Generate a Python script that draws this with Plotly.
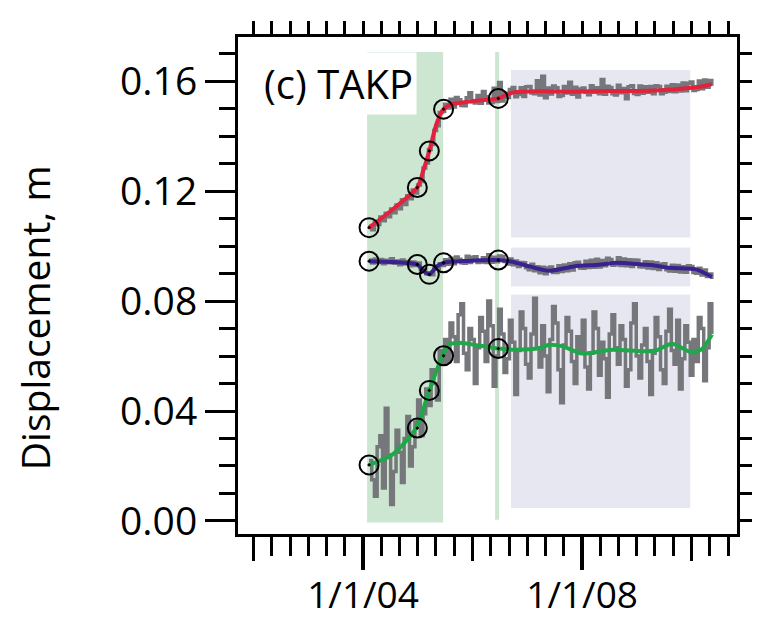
import pandas as pd
import plotly.graph_objects as go

# ---- raw daily-solution series (sampled every 18 days), millimetres ----
raw_start = "2004-02-10"
raw_count = 128

east_raw_mm = [
    107.2, 105.9, 108.9, 107.8, 110.6, 109.2, 111.9, 110.7, 113.5, 112.1,
    114.9, 113.6, 116.8, 115.1, 118.3, 117.2, 120.4, 119.3, 122.2, 123.5,
    128.4, 130.2, 135.1, 136.9, 142.0, 143.8, 148.6, 148.9, 151.6, 150.2,
    153.4, 150.6, 154.0, 153.2, 151.1, 151.0, 153.9, 155.8, 152.6, 152.0,
    154.8, 151.9, 156.2, 154.3, 152.0, 152.1, 157.4, 152.6, 159.5, 152.8,
    155.6, 154.0, 156.9, 157.7, 154.3, 155.1, 157.6, 154.4, 157.9, 158.0,
    155.7, 155.4, 160.1, 154.9, 161.8, 153.9, 157.5, 155.3, 158.2, 157.6,
    154.4, 154.8, 158.0, 155.7, 159.6, 155.2, 157.8, 154.2, 157.1, 157.5,
    155.9, 155.0, 158.3, 155.9, 157.6, 155.4, 160.6, 155.2, 158.1, 157.7,
    155.4, 154.9, 158.5, 155.8, 157.3, 153.6, 157.9, 158.3, 155.5, 155.1,
    158.2, 155.6, 157.9, 155.9, 158.0, 155.4, 158.3, 158.0, 155.4, 155.9,
    158.1, 156.2, 158.7, 156.1, 158.6, 156.4, 159.3, 156.5, 159.2, 159.7,
    156.6, 156.9, 160.0, 157.2, 160.4, 157.8, 160.2, 158.3,
]

north_raw_mm = [
    94.9, 93.8, 95.3, 94.0, 95.1, 93.6, 94.8, 93.9, 95.4, 93.7,
    94.6, 93.2, 94.9, 93.5, 94.4, 92.8, 94.2, 92.9, 93.8, 91.6,
    91.5, 89.9, 90.3, 89.6, 92.0, 91.8, 93.6, 92.9, 95.0, 93.4,
    95.6, 93.6, 96.0, 95.2, 93.9, 93.7, 96.3, 94.0, 95.9, 96.1,
    94.0, 94.2, 95.7, 94.0, 96.8, 94.1, 95.9, 94.3, 96.4, 96.2,
    94.4, 93.5, 95.3, 93.2, 94.6, 92.6, 94.0, 93.9, 92.1, 91.4,
    93.4, 91.0, 92.5, 90.3, 92.3, 89.9, 92.0, 92.4, 90.4, 90.4,
    92.8, 90.7, 93.1, 91.0, 93.6, 91.3, 93.9, 94.1, 92.0, 91.9,
    94.5, 92.2, 94.8, 92.3, 95.2, 92.4, 94.7, 92.8, 95.6, 95.1,
    93.0, 93.2, 95.7, 92.9, 95.3, 92.8, 95.0, 92.6, 94.9, 94.8,
    92.5, 92.4, 94.3, 92.0, 94.2, 91.8, 93.9, 91.5, 93.4, 93.6,
    91.4, 90.9, 93.0, 90.8, 92.9, 90.6, 92.5, 90.5, 92.8, 92.6,
    90.4, 90.1, 91.9, 89.5, 91.3, 88.9, 89.8, 88.0,
]

up_raw_mm = [
    22, 15, 9, 27, 31, 12, 41, 24, 6, 18,
    33, 25, 14, 30, 38, 20, 27, 36, 44, 31,
    39, 48, 42, 55, 50, 44, 62, 57, 66, 58,
    72, 67, 58, 75, 79, 61, 55, 70, 66, 50,
    63, 74, 69, 58, 80, 71, 49, 60, 77, 68,
    54, 59, 73, 65, 46, 62, 76, 70, 57, 52,
    68, 81, 63, 56, 71, 60, 47, 66, 78, 72,
    55, 43, 64, 74, 69, 58, 50, 67, 62, 73,
    56, 48, 61, 76, 70, 53, 65, 59, 45, 68,
    75, 63, 57, 71, 66, 49, 55, 72, 79, 60,
    52, 64, 70, 58, 46, 61, 74, 67, 55, 50,
    69, 77, 62, 57, 73, 48, 59, 71, 65, 53,
    66, 58, 74, 70, 51, 63, 79, 68,
]

# ---- smoothed trajectories, millimetres ----
east_fit_dates = [
    "2004-02-10", "2004-07-20", "2004-12-28", "2005-02-06", "2005-03-18",
    "2005-05-05", "2005-06-21", "2005-08-08", "2006-01-01", "2006-06-21",
    "2006-08-15", "2006-10-01", "2007-03-15", "2007-10-20", "2008-05-26",
    "2009-01-01", "2009-07-02", "2009-11-25", "2010-03-15", "2010-05-16",
]
east_fit_mm = [
    106.7, 113.5, 121.3, 127.5, 134.6, 144.5, 149.8, 151.4, 152.7, 153.7,
    155.0, 155.9, 156.3, 156.1, 156.4, 156.4, 156.8, 157.4, 158.1, 158.9,
]

north_fit_dates = [
    "2004-02-10", "2004-07-20", "2004-12-28", "2005-02-06", "2005-03-18",
    "2005-05-05", "2005-06-21", "2005-11-25", "2006-06-21", "2006-09-13",
    "2007-01-20", "2007-05-27", "2007-11-07", "2008-04-20", "2008-08-15",
    "2008-12-28", "2009-04-20", "2009-08-05", "2010-01-30", "2010-04-01",
    "2010-05-16",
]
north_fit_mm = [
    94.5, 94.2, 93.3, 91.0, 89.7, 92.5, 93.9, 94.6, 94.9, 94.4,
    92.5, 91.0, 92.6, 93.2, 93.9, 93.5, 93.0, 92.1, 91.5, 90.0,
    88.8,
]

up_fit_dates = [
    "2004-02-10", "2004-07-12", "2004-12-20", "2005-03-18", "2005-06-14",
    "2005-07-27", "2005-10-01", "2006-02-15", "2006-06-21", "2006-10-15",
    "2007-03-25", "2007-05-27", "2007-08-20", "2008-01-01", "2008-07-20",
    "2009-02-06", "2009-05-08", "2009-08-22", "2010-01-01", "2010-03-10",
    "2010-05-16",
]
up_fit_mm = [
    20.4, 24.0, 33.8, 47.5, 60.1, 64.1, 64.8, 63.8, 62.7, 62.3,
    62.9, 64.1, 63.6, 60.9, 62.3, 61.7, 62.0, 64.5, 61.3, 62.5,
    67.8,
]

# ---- epochs of campaign measurements ----
epoch_dates = ["2004-02-10", "2004-12-28", "2005-03-18", "2005-06-21", "2006-06-21"]
east_epoch_mm = [106.7, 121.3, 134.6, 149.8, 153.7]
north_epoch_mm = [94.5, 93.3, 89.7, 93.9, 94.9]
up_epoch_mm = [20.4, 33.8, 47.5, 60.1, 62.7]

# ---- axis ticks ----
x_label_dates = ["2004-01-01", "2008-01-01"]
x_label_text = ["1/1/04", "1/1/08"]
x_mid_dates = ["2002-01-01", "2006-01-01", "2010-01-01"]
y_major = [0.00, 0.04, 0.08, 0.12, 0.16]
y_major_text = ["0.00", "0.04", "0.08", "0.12", "0.16"]

GRAY = "#75777a"
RED = "#e5203c"
BLUE = "#3a2090"
GREEN = "#1fa84a"
SHADE_GREEN = "#cde6d1"
SHADE_LAV = "#e7e7f1"

raw_dates = pd.date_range(raw_start, periods=raw_count, freq="18D")
mm = 1000.0

fig = go.Figure()

for vals in (east_raw_mm, north_raw_mm, up_raw_mm):
    fig.add_trace(go.Scatter(
        x=raw_dates, y=[v / mm for v in vals], mode="lines",
        line=dict(color=GRAY, width=3.5, shape="hv"),
        hoverinfo="skip", showlegend=False))

for dates, vals, col in ((east_fit_dates, east_fit_mm, RED),
                         (north_fit_dates, north_fit_mm, BLUE),
                         (up_fit_dates, up_fit_mm, GREEN)):
    fig.add_trace(go.Scatter(
        x=dates, y=[v / mm for v in vals], mode="lines",
        line=dict(color=col, width=4, shape="spline", smoothing=0.7),
        showlegend=False))

for vals in (east_epoch_mm, north_epoch_mm, up_epoch_mm):
    fig.add_trace(go.Scatter(
        x=epoch_dates, y=[v / mm for v in vals], mode="markers",
        marker=dict(symbol="circle-open-dot", size=19, color="black",
                    line=dict(width=2, color="black")),
        showlegend=False))

# invisible traces so the overlay axes get drawn
fig.add_trace(go.Scatter(x=[x_label_dates[0]], y=[0.05], xaxis="x2", yaxis="y",
                         mode="markers", marker=dict(opacity=0), showlegend=False))
fig.add_trace(go.Scatter(x=[x_label_dates[0]], y=[0.05], xaxis="x3", yaxis="y",
                         mode="markers", marker=dict(opacity=0), showlegend=False))
fig.add_trace(go.Scatter(x=[x_label_dates[0]], y=[0.05], xaxis="x", yaxis="y2",
                         mode="markers", marker=dict(opacity=0), showlegend=False))

# shaded intervals
fig.add_shape(type="rect", xref="x", yref="y", x0="2004-01-28", x1="2005-06-18",
              y0=-0.0006, y1=0.1706, fillcolor=SHADE_GREEN, line_width=0, layer="below")
fig.add_shape(type="line", xref="x", yref="y", x0="2006-06-13", x1="2006-06-13",
              y0=0.0004, y1=0.1706, line=dict(color=SHADE_GREEN, width=4), layer="below")
for y0, y1 in ((0.1031, 0.1640), (0.0853, 0.0995), (0.0047, 0.0824)):
    fig.add_shape(type="rect", xref="x", yref="y", x0="2006-09-14", x1="2009-12-22",
                  y0=y0, y1=y1, fillcolor=SHADE_LAV, line_width=0, layer="below")

FONT = "Open Sans"
x_range = ["2001-09-19", "2010-10-30"]
y_range = [-0.00474, 0.17604]

fig.update_layout(
    width=767, height=624,
    margin=dict(l=238, r=30, t=37, b=90),
    paper_bgcolor="white", plot_bgcolor="white",
    font=dict(family=FONT, size=38, color="black"),
    showlegend=False,
    xaxis=dict(
        type="date", range=x_range, showgrid=False, zeroline=False,
        automargin=False,
        showline=True, mirror=True, linecolor="black", linewidth=3,
        tickmode="array", tickvals=x_label_dates, ticktext=x_label_text,
        ticks="outside", ticklen=33, tickwidth=4, tickcolor="black",
        ticklabelstandoff=-6,
        tickfont=dict(family=FONT, size=37),
        minor=dict(tick0="2002-01-01", dtick="M4", ticks="outside",
                   ticklen=19, tickwidth=3, tickcolor="black", showgrid=False),
    ),
    xaxis2=dict(
        type="date", overlaying="x", matches="x", anchor="y", side="bottom",
        range=x_range, showgrid=False, zeroline=False, showline=False,
        automargin=False,
        tickmode="array", tickvals=x_mid_dates, showticklabels=False,
        ticks="outside", ticklen=26, tickwidth=3, tickcolor="black",
    ),
    xaxis3=dict(
        type="date", overlaying="x", matches="x", anchor="y", side="top",
        range=x_range, showgrid=False, zeroline=False, showline=False,
        automargin=False,
        tick0="2002-01-01", dtick="M4", showticklabels=False,
        ticks="outside", ticklen=15, tickwidth=3, tickcolor="black",
    ),
    yaxis=dict(
        range=y_range, showgrid=False, zeroline=False, automargin=False,
        showline=True, mirror=True, linecolor="black", linewidth=3,
        tickmode="array", tickvals=y_major, ticktext=y_major_text,
        ticks="outside", ticklen=30, tickwidth=3, tickcolor="black",
        tickfont=dict(family=FONT, size=39),
        minor=dict(tick0=0, dtick=0.01, ticks="outside", ticklen=16,
                   tickwidth=3, tickcolor="black", showgrid=False),
    ),
    yaxis2=dict(
        range=y_range, overlaying="y", matches="y", anchor="x", side="right",
        automargin=False,
        showgrid=False, zeroline=False, showline=False, showticklabels=False,
        tick0=0, dtick=0.01, ticks="outside", ticklen=14, tickwidth=3,
        tickcolor="black",
    ),
    annotations=[
        dict(text="(c) TAKP", xref="paper", yref="paper", x=0.044, y=0.906,
             xanchor="left", yanchor="middle", showarrow=False,
             font=dict(family=FONT, size=40, color="black"),
             bgcolor="white", borderpad=3),
        dict(text="Displacement, m", xref="paper", yref="paper", x=-0.408, y=0.435,
             xanchor="center", yanchor="middle", textangle=-90, showarrow=False,
             font=dict(family=FONT, size=39, color="black")),
    ],
)

fig.write_html("out.html")
